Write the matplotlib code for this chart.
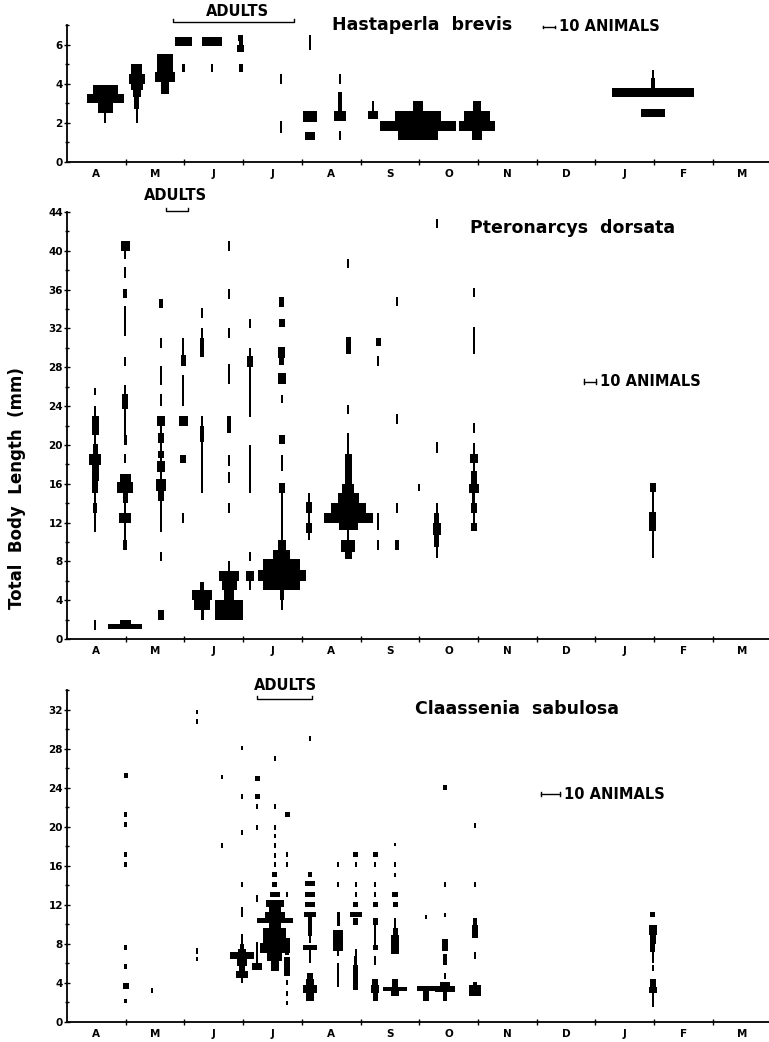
import matplotlib
matplotlib.use("Agg")
import matplotlib.pyplot as plt
from matplotlib.lines import Line2D

W, H = 769, 1042
MONTHS = ['A', 'M', 'J', 'J', 'A', 'S', 'O', 'N', 'D', 'J', 'F', 'M']

# ---------------- Hastaperla brevis (top) ----------------
# sample dates in months since 1 April; segments: (length_lo, length_hi, number of animals)
HB_DATES = [0.65, 1.19, 1.67, 1.98, 2.47, 2.96, 3.65, 4.14, 4.65, 5.21, 5.98, 6.98, 9.98]
HB_SAMPLES = [
    [(2.0, 2.5, 1.2), (2.5, 3.0, 12.5), (3.0, 3.45, 31), (3.45, 3.95, 21)],
    [(2.0, 2.7, 1.5), (2.7, 3.3, 4), (3.3, 3.7, 7), (3.7, 4.0, 10), (4.0, 4.5, 13), (4.5, 5.0, 9)],
    [(3.5, 4.1, 7), (4.1, 4.6, 17), (4.6, 5.5, 14)],
    [(4.6, 5.0, 2.5), (5.95, 6.4, 14)],
    [(4.6, 5.0, 2), (5.95, 6.4, 16)],
    [(4.6, 5.0, 3), (5.6, 6.0, 5.5), (6.0, 6.2, 3.5), (6.2, 6.5, 4.5)],
    [(1.5, 2.1, 1.5), (4.0, 4.5, 1.5)],
    [(1.1, 1.55, 8), (2.05, 2.6, 12), (5.7, 6.5, 2)],
    [(1.1, 1.6, 1.5), (2.1, 2.6, 10), (2.6, 3.6, 4), (4.0, 4.5, 1.5)],
    [(2.2, 2.6, 8), (2.6, 3.1, 1.5)],
    [(1.1, 1.6, 33), (1.6, 2.1, 63), (2.1, 2.6, 39), (2.6, 3.1, 8)],
    [(1.1, 1.6, 8), (1.6, 2.1, 30), (2.1, 2.6, 22), (2.6, 3.1, 7)],
    [(2.3, 2.7, 20), (3.3, 3.8, 68), (3.8, 4.3, 3.3), (4.3, 4.7, 1.7)],
]

# ---------------- Pteronarcys dorsata (middle) ----------------
PD_DATES = [0.48, 0.99, 1.60, 1.98, 2.30, 2.76, 3.12, 3.66, 4.12, 4.79, 5.30, 5.62, 6.00, 6.30, 6.93, 9.98]
PD_SAMPLES = [
    [(0.9, 2.0, 1.5), (11, 13, 1.5), (13, 14, 3.5), (14, 15, 1.5), (15, 16.3, 5), (16.3, 17.9, 6),
     (17.9, 19.1, 10), (19.1, 20.1, 4), (20.1, 21, 1.5), (21, 23, 6), (23, 24, 1.5), (25.1, 25.9, 1.5)],
    [(1.0, 1.5, 28), (1.5, 2.0, 9), (9.2, 10.2, 3.5), (10.2, 12, 1.5), (12, 13, 10), (13, 14, 1.5),
     (14, 15, 4), (15, 16.2, 13), (16.2, 17, 9), (18.1, 19.1, 1.5), (20, 21, 2.5), (21, 23.7, 1.5),
     (23.7, 25.2, 5), (25.2, 26.2, 1.5), (28.1, 29.1, 1.5), (31.2, 34.3, 1.5), (35.1, 36.1, 3.5),
     (37.2, 38.3, 1.5), (39.2, 40, 1.5), (40, 41, 7.5)],
    [(2.0, 3.0, 5), (8.0, 9.0, 1.5), (11, 14.2, 1.5), (14.2, 15.2, 5), (15.2, 16.5, 9), (16.5, 17.2, 1.5),
     (17.2, 18.3, 6), (18.3, 18.6, 1.5), (18.6, 19.4, 4.5), (19.4, 20.2, 1.5), (20.2, 21.2, 5),
     (21.2, 22, 1.5), (22, 23, 6), (24.0, 25.2, 1.5), (26.2, 28.1, 1.5), (30, 31, 1.5), (34.1, 35.0, 3.5)],
    [(12, 13, 1.5), (18.1, 19, 5), (22, 23, 7.5), (24.0, 27.2, 1.2), (28.1, 29.3, 4.5), (29.3, 31, 1.5)],
    [(2.0, 3.0, 2.5), (3.0, 4.0, 13), (4.0, 5.0, 16.5), (5.0, 5.9, 3.5), (15, 20.3, 1.5), (20.3, 22, 3.5),
     (22, 23, 1.5), (29.1, 31, 3.5), (31, 32, 1.5), (33.1, 34.1, 1.5)],
    [(2.0, 4.0, 24), (4.0, 5.0, 8.5), (5.0, 6.0, 12.5), (6.0, 7.0, 16.5), (7.0, 8.0, 1.5), (13, 14, 1.5),
     (16.1, 17.2, 1.5), (17.8, 19, 1.5), (21.2, 23, 4), (26.3, 28.3, 1.5), (31, 32, 1.5), (35, 36.1, 1.5),
     (40, 41, 1.5)],
    [(5, 6, 1.5), (6, 7, 7), (8, 9, 1.5), (15, 20, 1.5), (22.9, 28, 1.3), (28, 29.2, 4.5), (29.2, 30, 1.5),
     (32, 33, 1.5)],
    [(3, 4, 1.5), (4, 5, 3.5), (5, 6, 31), (6, 7.1, 40), (7.1, 8.2, 31), (8.2, 9.2, 14), (9.2, 10.2, 6.5),
     (10.2, 15, 1.5), (15, 16.1, 5), (17.3, 19, 1.5), (20.1, 21, 5), (24.3, 25.1, 1.5), (26.3, 27.4, 6.5),
     (28.2, 29, 4), (29, 30.1, 6), (32.1, 33, 5), (34.2, 35.2, 4)],
    [(10.2, 10.9, 1.5), (10.9, 12, 5), (12, 13, 1.5), (13, 14.1, 5), (14.1, 15, 1.5)],
    [(8.2, 9, 6), (9, 10.2, 12), (10.2, 11.2, 1.5), (11.2, 12, 16), (12, 13, 41), (13, 14, 29),
     (14, 15, 17.5), (15, 16, 10), (16, 19.1, 6), (19.1, 21.2, 1.5), (23.2, 24.1, 1.5), (29.4, 31.1, 4),
     (38.2, 39.2, 1.5)],
    [(9.2, 10.2, 1.5), (11.2, 13, 1.5), (28.1, 29.2, 1.5), (30.2, 31, 4)],
    [(9.2, 10.2, 3.5), (13, 14, 1.5), (22.2, 23.2, 1.5), (34.3, 35.2, 1.5)],
    [(15.2, 16, 1.5)],
    [(8.3, 9.5, 1.5), (9.5, 10.7, 4), (10.7, 12, 6.5), (12, 13, 4), (13, 14, 1.5), (19.2, 20.3, 1.5),
     (42.3, 43.3, 1.5)],
    [(11.1, 12, 5), (12, 13, 1.5), (13, 14, 5), (14, 15, 2.5), (15, 16, 8), (16, 17.3, 5), (17.3, 18.1, 1.5),
     (18.1, 19.1, 7), (19.1, 20.2, 1.5), (21.2, 22.3, 1.5), (29.4, 32.1, 1.5), (35.2, 36.2, 1.5)],
    [(8.3, 11.1, 1.5), (11.1, 13.1, 6), (13.1, 15.1, 1.5), (15.1, 16.1, 4.5)],
]

# ---------------- Claassenia sabulosa (bottom) ----------------
CS_DATES = [1.00, 1.45, 2.21, 2.64, 2.98, 3.24, 3.54, 3.75, 4.14, 4.62, 4.92, 5.25, 5.59, 6.12, 6.44, 6.95, 9.98]
CS_SAMPLES = [
    [(1.9, 2.4, 1.3), (3.4, 4.0, 3.2), (5.4, 5.9, 1.3), (7.4, 7.9, 1.3), (15.9, 16.4, 1.3), (16.9, 17.4, 1.3),
     (20, 20.5, 1.3), (21, 21.5, 1.3), (25, 25.5, 2.2)],
    [(3.0, 3.5, 1.2)],
    [(6.2, 6.7, 1.2), (7.0, 7.6, 1.2), (30.5, 31, 1.2), (31.5, 32, 1.2)],
    [(17.8, 18.3, 1.2), (24.9, 25.3, 1.2)],
    [(4.0, 4.5, 1), (4.5, 5.2, 6.5), (5.2, 5.7, 3.5), (5.7, 6.5, 5), (6.5, 7.2, 13), (7.2, 7.5, 4),
     (7.5, 8.0, 2), (8, 9, 1), (10.8, 11.8, 1), (13.8, 14.3, 1), (19.2, 19.7, 1), (22.8, 23.3, 1),
     (27.9, 28.3, 1)],
    [(5.3, 6.0, 5), (6.0, 8.2, 1), (12.3, 13.0, 1), (19.7, 20.2, 1.2), (21.8, 22.3, 1.2), (22.8, 23.3, 2.5),
     (24.7, 25.2, 2.5)],
    [(5.2, 6.2, 4), (6.2, 7.1, 8), (7.1, 8.1, 16), (8.1, 9.6, 12), (9.6, 10.1, 6.5), (10.1, 10.6, 19),
     (10.6, 11.3, 10.5), (11.3, 11.8, 6.5), (11.8, 12.5, 9.5), (12.8, 13.3, 5), (13.8, 14.3, 2.5),
     (14.9, 15.4, 2.5), (15.9, 16.4, 1.2), (16.8, 17.3, 1.2), (17.8, 18.3, 1.2), (18.8, 19.3, 1.2),
     (19.7, 20.2, 1.2), (21.8, 22.3, 1.2), (26.7, 27.2, 1.2)],
    [(1.7, 2.2, 1.2), (2.7, 3.2, 1.2), (3.8, 4.3, 1.2), (4.7, 6.7, 3), (6.9, 7.9, 2), (7.9, 8.6, 2.5),
     (12.8, 13.3, 1.2), (15.9, 16.4, 1.2), (16.9, 17.4, 1.2), (21, 21.5, 2.5)],
    [(2.1, 3.0, 4), (3.0, 3.8, 7.5), (3.8, 4.4, 4), (4.4, 5.0, 3), (6, 7.4, 1), (7.4, 7.9, 7), (8.1, 8.8, 1),
     (8.8, 9.4, 2.5), (9.4, 10.8, 2), (10.8, 11.3, 6), (11.8, 12.3, 5), (12.8, 13.3, 5), (13.9, 14.4, 5),
     (14.9, 15.4, 2.5), (28.8, 29.3, 1.2)],
    [(3.6, 6.0, 1), (6.8, 7.3, 1), (7.3, 9.4, 5), (9.8, 11.3, 1.5), (13.8, 14.3, 1), (15.9, 16.4, 1)],
    [(3.3, 5.8, 2.5), (5.8, 6.8, 1.5), (6.8, 7.5, 1), (9.9, 10.6, 2.5), (10.8, 11.3, 6), (11.8, 12.3, 2.5),
     (12.8, 13.3, 1.2), (13.8, 14.3, 1.2), (15.9, 16.4, 1), (16.9, 17.4, 2.5)],
    [(2.1, 3.0, 2.5), (3.0, 3.8, 4), (3.8, 4.4, 3), (5.8, 6.8, 1), (7.4, 7.9, 2.5), (7.9, 9.9, 1),
     (9.9, 10.6, 2.5), (11.8, 12.3, 2.5), (12.8, 13.3, 1.2), (13.8, 14.3, 1.2), (15.9, 16.4, 1),
     (16.9, 17.4, 2.5)],
    [(2.7, 3.2, 4), (3.2, 3.6, 12.5), (3.6, 4.4, 3), (7.0, 8.9, 4.5), (8.9, 9.6, 2.5), (9.6, 10.6, 1),
     (11.8, 12.3, 2.5), (12.8, 13.3, 3), (14.9, 15.3, 1), (15.9, 16.4, 1), (18, 18.3, 1)],
    [(2.1, 3.2, 3), (3.2, 3.7, 9.5), (10.5, 11, 1)],
    [(2.1, 3.1, 2.5), (3.1, 3.7, 10.5), (3.7, 4.1, 5), (4.4, 5.0, 1), (5.8, 7.0, 2), (7.3, 8.5, 3.5),
     (10.8, 11.2, 1), (13.8, 14.3, 1), (23.8, 24.3, 2)],
    [(2.7, 3.8, 6.5), (3.8, 4.1, 2.5), (6.5, 7.2, 1), (8.6, 9.9, 3), (9.9, 10.6, 2.5), (13.8, 14.3, 1),
     (19.9, 20.4, 1)],
    [(1.5, 3.0, 1), (3.0, 3.6, 4.5), (3.6, 4.4, 3.5), (5.2, 5.8, 1), (6.0, 7.2, 1), (7.2, 8.0, 2.5),
     (8.0, 8.9, 3), (8.9, 9.9, 4), (10.8, 11.3, 2.5)],
]

PX_PER_MONTH = 58.7
X0 = 67


def fx(px):
    return px / W


def fy(py):
    return 1 - py / H


fig = plt.figure(figsize=(W / 100, H / 100), dpi=100)
FONT = 'DejaVu Sans'


def make_axes(y_top_px, y_bot_px, ymax, major, minor):
    ax = fig.add_axes([fx(X0), fy(y_bot_px), (W - X0) / W, (y_bot_px - y_top_px) / H])
    ax.set_xlim(0, (W - X0) / PX_PER_MONTH)
    ax.set_ylim(0, ymax)
    for s in ('top', 'right'):
        ax.spines[s].set_visible(False)
    for s in ('left', 'bottom'):
        ax.spines[s].set_linewidth(1.3)
    ax.set_xticks(range(1, 12))
    ax.set_xticklabels([])
    ax.set_xticks([i + 0.5 for i in range(12)], minor=True)
    ax.set_xticklabels(MONTHS, minor=True, fontsize=7.5, fontweight='bold', family=FONT)
    ax.tick_params(axis='x', which='major', direction='inout', length=4, width=1)
    ax.tick_params(axis='x', which='minor', length=0, pad=5)
    ax.set_yticks(major)
    ax.set_yticklabels([str(v) for v in major], fontsize=7.5, fontweight='bold', family=FONT)
    ax.set_yticks(minor, minor=True)
    ax.tick_params(axis='y', which='both', direction='inout', length=4, width=1, pad=1)
    ax.tick_params(axis='y', which='minor', length=3)
    return ax


def draw_samples(ax, dates, samples, unit, minw_px=1.8):
    minw = minw_px / PX_PER_MONTH
    for x, segs in zip(dates, samples):
        for lo, hi, n in segs:
            w = max(n * unit, minw)
            ax.barh((lo + hi) / 2, w, height=hi - lo, left=x - w / 2, color='black', linewidth=0)


def scale_bar(ax, x0, y, unit, text):
    L = 10 * unit
    ax.plot([x0, x0 + L], [y, y], color='black', lw=1.0, clip_on=False)
    dy = (ax.get_ylim()[1]) * 0.006
    for xx in (x0, x0 + L):
        ax.plot([xx, xx], [y - dy, y + dy], color='black', lw=1.0, clip_on=False)
    ax.text(x0 + L + 0.07, y, text, fontsize=10.5, fontweight='bold', family=FONT, va='center', ha='left')


def bracket(x1, x2, ypx, label=None, label_y=None, label_x=None):
    line = Line2D([fx(x1), fx(x1), fx(x2), fx(x2)], [fy(ypx - 3), fy(ypx), fy(ypx), fy(ypx - 3)],
                  transform=fig.transFigure, color='black', lw=1.0)
    fig.add_artist(line)
    if label:
        fig.text(fx(label_x), fy(label_y), label, fontsize=10.5, fontweight='bold', family=FONT,
                 ha='center', va='center')


UNIT_TM = 1.2 / PX_PER_MONTH   # months per animal, top & middle panels
UNIT_B = 1.9 / PX_PER_MONTH    # months per animal, bottom panel
TITLE_SIZE = 12.5

# top panel
ax1 = make_axes(25, 162, 7, [0, 2, 4, 6], [1, 3, 5, 7])
draw_samples(ax1, HB_DATES, HB_SAMPLES, UNIT_TM)
fig.text(fx(332), fy(25), 'Hastaperla  brevis', fontsize=TITLE_SIZE, fontweight='bold', family=FONT,
         ha='left', va='center')
scale_bar(ax1, (543 - X0) / PX_PER_MONTH, 6.9, UNIT_TM, '10 ANIMALS')
bracket(173, 294, 22, 'ADULTS', 12, 237)

# middle panel
ax2 = make_axes(212, 639, 44, list(range(0, 45, 4)), list(range(2, 44, 4)))
draw_samples(ax2, PD_DATES, PD_SAMPLES, UNIT_TM)
fig.text(fx(470), fy(228), 'Pteronarcys  dorsata', fontsize=TITLE_SIZE, fontweight='bold', family=FONT,
         ha='left', va='center')
scale_bar(ax2, (584 - X0) / PX_PER_MONTH, 26.5, UNIT_TM, '10 ANIMALS')
bracket(166, 188, 211, 'ADULTS', 195, 175)

# bottom panel
ax3 = make_axes(690, 1022, 34, list(range(0, 33, 4)), list(range(2, 35, 4)))
draw_samples(ax3, CS_DATES, CS_SAMPLES, UNIT_B)
fig.text(fx(415), fy(709), 'Claassenia  sabulosa', fontsize=TITLE_SIZE, fontweight='bold', family=FONT,
         ha='left', va='center')
scale_bar(ax3, (541 - X0) / PX_PER_MONTH, 23.3, UNIT_B, '10 ANIMALS')
bracket(257, 312, 699, 'ADULTS', 685, 285)

fig.text(fx(17), fy(488), 'Total  Body  Length  (mm)', rotation=90, fontsize=12, fontweight='bold',
         family=FONT, ha='center', va='center')

fig.savefig('out.png', dpi=100)
